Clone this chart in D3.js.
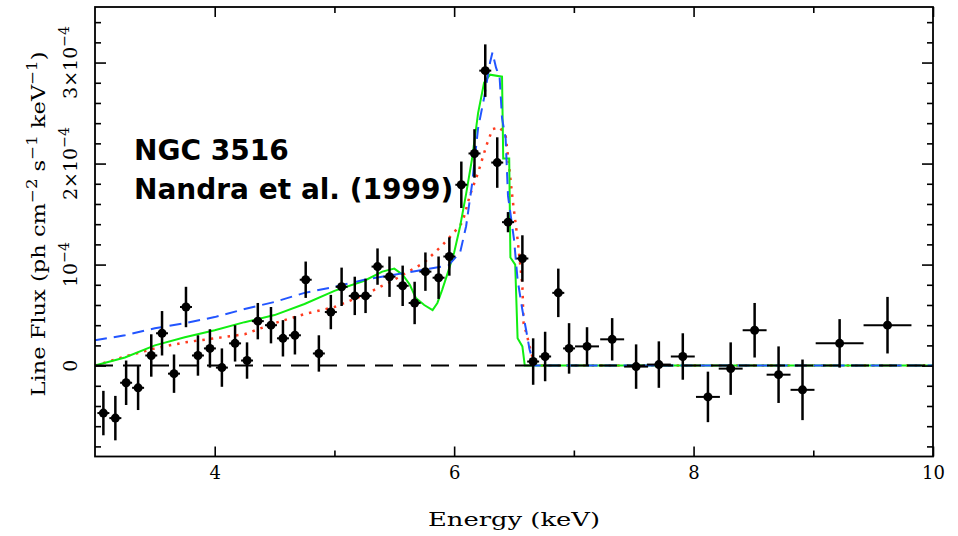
<!DOCTYPE html>
<html>
<head>
<meta charset="utf-8">
<script src="https://cdn.jsdelivr.net/npm/d3@7"></script>
<style>
  body { margin: 0; background: #fff; }
  svg { display: block; }
</style>
</head>
<body>
<svg id="svg" width="958" height="536"></svg>
<script>
// data (flux in units of 1e-4 ph cm^-2 s^-1 keV^-1)
const energy = [3.07, 3.17, 3.26, 3.36, 3.47, 3.56, 3.66, 3.76, 3.86, 3.96,
    4.06, 4.17, 4.27, 4.36, 4.47, 4.57, 4.67, 4.76, 4.87, 4.97,
    5.06, 5.17, 5.26, 5.36, 5.46, 5.57, 5.67, 5.76, 5.87, 5.96,
    6.06, 6.17, 6.26, 6.36, 6.45, 6.57, 6.66, 6.76, 6.87, 6.96,
    7.11, 7.32, 7.52, 7.71, 7.91, 8.12, 8.31, 8.51, 8.71, 8.91,
    9.22, 9.62];
const energyErr = [0.05, 0.05, 0.05, 0.05, 0.05, 0.05, 0.05, 0.05, 0.05, 0.05,
    0.05, 0.05, 0.05, 0.05, 0.05, 0.05, 0.05, 0.05, 0.05, 0.05,
    0.05, 0.05, 0.05, 0.05, 0.05, 0.05, 0.05, 0.05, 0.05, 0.05,
    0.05, 0.05, 0.05, 0.05, 0.05, 0.05, 0.05, 0.05, 0.05, 0.05,
    0.1, 0.1, 0.1, 0.1, 0.1, 0.1, 0.1, 0.1, 0.1, 0.1,
    0.2, 0.2];
const flux = [-0.47, -0.52, -0.17, -0.22, 0.10, 0.32, -0.08, 0.58, 0.10, 0.17,
    -0.02, 0.22, 0.05, 0.44, 0.40, 0.27, 0.30, 0.85, 0.12, 0.53,
    0.78, 0.69, 0.69, 0.98, 0.88, 0.79, 0.62, 0.93, 0.87, 1.08,
    1.79, 2.10, 2.92, 2.01, 1.42, 1.06, 0.04, 0.09, 0.72, 0.17,
    0.19, 0.26, -0.01, 0.01, 0.09, -0.31, -0.03, 0.35, -0.09, -0.24,
    0.22, 0.40];
const fluxErr = [0.22, 0.22, 0.22, 0.22, 0.21, 0.22, 0.19, 0.20, 0.20, 0.19,
    0.19, 0.18, 0.18, 0.18, 0.18, 0.18, 0.19, 0.18, 0.18, 0.17,
    0.19, 0.19, 0.17, 0.18, 0.20, 0.20, 0.21, 0.19, 0.21, 0.19,
    0.23, 0.24, 0.26, 0.25, 0.10, 0.23, 0.23, 0.245, 0.24, 0.25,
    0.19, 0.21, 0.22, 0.23, 0.23, 0.25, 0.26, 0.27, 0.28, 0.30,
    0.24, 0.28];

// model curves
const blueE = [3.0, 3.25, 3.5, 3.75, 4.0, 4.25, 4.5, 4.75, 5.0, 5.25, 5.5, 5.75, 5.95,
    6.05, 6.1, 6.15, 6.2, 6.25, 6.3, 6.32, 6.35, 6.38, 6.4, 6.43, 6.45, 6.5, 6.53,
    6.57, 6.6, 6.63, 6.67, 10.0];
const blueF = [0.25, 0.30, 0.37, 0.42, 0.48, 0.56, 0.63, 0.72, 0.78, 0.85, 0.90, 0.95, 0.99,
    1.12, 1.38, 1.80, 2.35, 2.65, 3.00, 3.10, 2.95, 2.85, 2.45, 2.25, 1.68, 1.25, 0.85,
    0.55, 0.36, 0.16, 0.0, 0.0];
const greenE = [3.0, 3.25, 3.5, 3.75, 4.0, 4.25, 4.5, 4.75, 5.0, 5.25, 5.4, 5.5, 5.57,
    5.63, 5.68, 5.75, 5.82, 5.86, 5.9, 5.95, 6.0, 6.05, 6.1, 6.15, 6.2, 6.25, 6.3,
    6.4, 6.41, 6.46, 6.47, 6.51, 6.53, 6.57, 6.59, 10.0];
const greenF = [0.0, 0.08, 0.2, 0.28, 0.35, 0.43, 0.5, 0.61, 0.74, 0.84, 0.93, 0.96, 0.90,
    0.80, 0.67, 0.60, 0.55, 0.62, 0.75, 0.93, 1.12, 1.38, 1.70, 2.05, 2.50, 2.80, 2.88,
    2.86, 2.05, 2.05, 1.07, 1.0, 0.27, 0.19, 0.0, 0.0];
const redE = [3.0, 3.25, 3.5, 3.75, 4.0, 4.25, 4.5, 4.75, 5.0, 5.25, 5.5, 5.75, 5.9,
    6.0, 6.07, 6.13, 6.2, 6.27, 6.32, 6.38, 6.43, 6.45, 6.49, 6.53, 6.57, 6.58,
    6.61, 6.63, 6.66, 6.68, 10.0];
const redF = [0.0, 0.09, 0.17, 0.23, 0.27, 0.31, 0.42, 0.51, 0.58, 0.70, 0.85, 1.02, 1.19,
    1.32, 1.42, 1.68, 1.91, 2.18, 2.34, 2.36, 2.28, 2.07, 1.63, 1.25, 0.79, 0.42,
    0.29, 0.19, 0.06, 0.0, 0.0];

// axis ticks
const xMajor = [4, 6, 8, 10];
const xMinor = [5, 7, 9];
const yMajor = [0, 1, 2, 3];
const yTickBase = ["0", "10", "2\u00d710", "3\u00d710"];
const yTickExp = ["", "\u22124", "\u22124", "\u22124"];

// visual constants
const dims = { width: 958, height: 536 };
const frame = { left: 95, right: 933, top: 7, bottom: 456.5 };

let xScale = d3.scaleLinear().domain([3, 10]).range([frame.left, frame.right]);
let yScale = d3.scaleLinear().domain([-0.9, 3.55]).range([frame.bottom, frame.top]);

let mySvg = d3.select('#svg');
mySvg.append("rect").attr("width", dims.width).attr("height", dims.height).attr("fill", "#fff");

let line = d3.line().x(d => xScale(d[0])).y(d => yScale(d[1]));

// models: red dotted, green solid, blue dashed
mySvg.append("path")
    .attr("d", line(d3.zip(redE, redF)))
    .attr("fill", "none").attr("stroke", "#ff3b1f")
    .attr("stroke-width", 2.5).attr("stroke-dasharray", "2.5,6");
mySvg.append("path")
    .attr("d", line(d3.zip(greenE, greenF)))
    .attr("fill", "none").attr("stroke", "#11ee11").attr("stroke-width", 2);
mySvg.append("path")
    .attr("d", line(d3.zip(blueE, blueF)))
    .attr("fill", "none").attr("stroke", "#2255ff")
    .attr("stroke-width", 2).attr("stroke-dasharray", "12,7");

// zero line
mySvg.append("line")
    .attr("x1", frame.left).attr("x2", frame.right)
    .attr("y1", yScale(0)).attr("y2", yScale(0))
    .attr("stroke", "#000").attr("stroke-width", 2).attr("stroke-dasharray", "18,10");

// data points with error bars
let pts = energy.map((e, i) => ({ e: e, de: energyErr[i], f: flux[i], df: fluxErr[i] }));
let g = mySvg.append("g").attr("class", "data");
g.selectAll("line.xe").data(pts).enter().append("line")
    .attr("x1", d => xScale(d.e - d.de)).attr("x2", d => xScale(d.e + d.de))
    .attr("y1", d => yScale(d.f)).attr("y2", d => yScale(d.f))
    .attr("stroke", "#000").attr("stroke-width", 2);
g.selectAll("line.ye").data(pts).enter().append("line")
    .attr("x1", d => xScale(d.e)).attr("x2", d => xScale(d.e))
    .attr("y1", d => yScale(d.f - d.df)).attr("y2", d => yScale(d.f + d.df))
    .attr("stroke", "#000").attr("stroke-width", 2.5);
g.selectAll("circle").data(pts).enter().append("circle")
    .attr("cx", d => xScale(d.e)).attr("cy", d => yScale(d.f))
    .attr("r", 4.5).attr("fill", "#000");

// frame
mySvg.append("rect")
    .attr("x", frame.left).attr("y", frame.top)
    .attr("width", frame.right - frame.left).attr("height", frame.bottom - frame.top)
    .attr("fill", "none").attr("stroke", "#000").attr("stroke-width", 1.8);

// ticks (inward, all four sides)
function ticks(axis, tr) {
    let a = mySvg.append("g").attr("transform", tr).call(axis);
    a.select(".domain").remove();
    a.selectAll("line").attr("stroke-width", 1.6);
    return a;
}
let yMinor = d3.range(-8, 35, 2).map(v => v / 10).filter(v => !yMajor.includes(v));

let xb = ticks(d3.axisBottom(xScale).tickValues(xMajor).tickSizeInner(-10).tickSizeOuter(0)
    .tickPadding(10).tickFormat(d3.format("d")), `translate(0,${frame.bottom})`);
xb.selectAll("text").attr("font-family", "DejaVu Serif").attr("font-size", 18).attr("fill", "#000");
ticks(d3.axisBottom(xScale).tickValues(xMinor).tickSizeInner(-6).tickSizeOuter(0).tickFormat(""),
    `translate(0,${frame.bottom})`);
ticks(d3.axisTop(xScale).tickValues(xMajor).tickSizeInner(-10).tickSizeOuter(0).tickFormat(""),
    `translate(0,${frame.top})`);
ticks(d3.axisTop(xScale).tickValues(xMinor).tickSizeInner(-6).tickSizeOuter(0).tickFormat(""),
    `translate(0,${frame.top})`);
ticks(d3.axisLeft(yScale).tickValues(yMajor).tickSizeInner(-11).tickSizeOuter(0).tickFormat(""),
    `translate(${frame.left},0)`);
ticks(d3.axisLeft(yScale).tickValues(yMinor).tickSizeInner(-6).tickSizeOuter(0).tickFormat(""),
    `translate(${frame.left},0)`);
ticks(d3.axisRight(yScale).tickValues(yMajor).tickSizeInner(-11).tickSizeOuter(0).tickFormat(""),
    `translate(${frame.right},0)`);
ticks(d3.axisRight(yScale).tickValues(yMinor).tickSizeInner(-6).tickSizeOuter(0).tickFormat(""),
    `translate(${frame.right},0)`);

// y tick labels (rotated)
yMajor.forEach((v, i) => {
    let t = mySvg.append("text")
        .attr("transform", `translate(77,${yScale(v)}) rotate(-90)`)
        .attr("text-anchor", "middle")
        .attr("font-family", "DejaVu Serif").attr("font-size", 19).attr("fill", "#000");
    t.append("tspan").text(yTickBase[i]);
    if (yTickExp[i]) t.append("tspan").attr("dy", -8).attr("font-size", 14).text(yTickExp[i]);
});

// axis titles
mySvg.append("text")
    .attr("x", 514).attr("y", 526)
    .attr("text-anchor", "middle")
    .attr("font-family", "DejaVu Serif").attr("font-size", 18)
    .attr("textLength", 172).attr("lengthAdjust", "spacingAndGlyphs")
    .text("Energy (keV)");

let yt = mySvg.append("text")
    .attr("transform", "translate(45,224) rotate(-90)")
    .attr("text-anchor", "middle")
    .attr("font-family", "DejaVu Serif").attr("font-size", 19)
    .attr("textLength", 345).attr("lengthAdjust", "spacingAndGlyphs");
[["Line Flux (ph cm", 0, 19], ["\u22122", -8, 14], [" s", 8, 19], ["\u22121", -8, 14],
 [" keV", 8, 19], ["\u22121", -8, 14], [")", 8, 19]].forEach(p => {
    yt.append("tspan").attr("dy", p[1]).attr("font-size", p[2]).text(p[0]);
});

// annotation
let note = mySvg.append("text")
    .attr("font-family", "DejaVu Sans").attr("font-weight", "bold").attr("font-size", 28)
    .attr("fill", "#000");
note.append("tspan").attr("x", 134).attr("y", 160).text("NGC 3516");
note.append("tspan").attr("x", 134).attr("y", 199).text("Nandra et al. (1999)");
</script>
</body>
</html>
